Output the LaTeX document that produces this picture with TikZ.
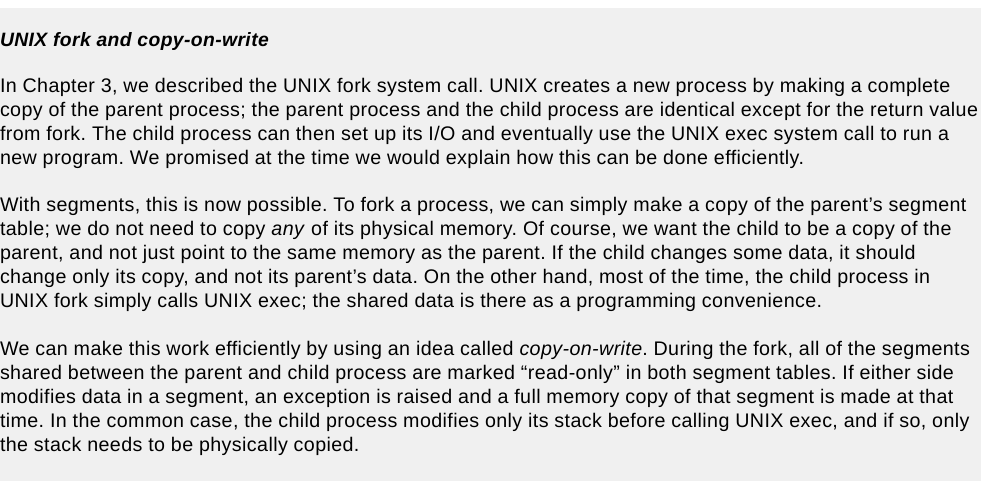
\documentclass[tikz,border=0pt]{standalone}
\usepackage{fontspec}
\setmainfont{Liberation Sans}[LetterSpace=2.0]
\definecolor{boxbg}{HTML}{F0F0F0}
\frenchspacing
\begin{document}
\frenchspacing
\begin{tikzpicture}[x=0.75pt,y=-0.75pt,
  txt/.style={anchor=base west,inner sep=0pt,outer sep=0pt,font=\fontsize{14.75pt}{18pt}\selectfont},
  ttl/.style={txt,font=\fontsize{14.5pt}{18pt}\selectfont\bfseries\itshape}]
\useasboundingbox (0,0) rectangle (986,481);
\fill[boxbg] (0,8) rectangle (981,481);
\node[ttl] (t) at (0,46.7) {UNIX fork and copy-on-write};
\node[txt] (a1) at (0,92.7) {In Chapter 3, we described the UNIX fork system call. UNIX creates a new process by making a complete};
\node[txt] (a2) at (0,116.7) {copy of the parent process; the parent process and the child process are identical except for the return value};
\node[txt] (a3) at (0,140.7) {from fork. The child process can then set up its I/O and eventually use the UNIX exec system call to run a};
\node[txt] (a4) at (0,164.7) {new program. We promised at the time we would explain how this can be done efficiently.};
\node[txt] (b1) at (0,211.7) {With segments, this is now possible. To fork a process, we can simply make a copy of the parent’s segment};
\node[txt] (b2) at (0,235.7) {table; we do not need to copy \textit{any} of its physical memory. Of course, we want the child to be a copy of the};
\node[txt] (b3) at (0,259.7) {parent, and not just point to the same memory as the parent. If the child changes some data, it should};
\node[txt] (b4) at (0,283.7) {change only its copy, and not its parent’s data. On the other hand, most of the time, the child process in};
\node[txt] (b5) at (0,307.7) {UNIX fork simply calls UNIX exec; the shared data is there as a programming convenience.};
\node[txt] (c1) at (0,355.7) {We can make this work efficiently by using an idea called \textit{copy-on-write}. During the fork, all of the segments};
\node[txt] (c2) at (0,379.7) {shared between the parent and child process are marked “read-only” in both segment tables. If either side};
\node[txt] (c3) at (0,403.7) {modifies data in a segment, an exception is raised and a full memory copy of that segment is made at that};
\node[txt] (c4) at (0,427.7) {time. In the common case, the child process modifies only its stack before calling UNIX exec, and if so, only};
\node[txt] (c5) at (0,451.7) {the stack needs to be physically copied.};
\end{tikzpicture}
\end{document}
